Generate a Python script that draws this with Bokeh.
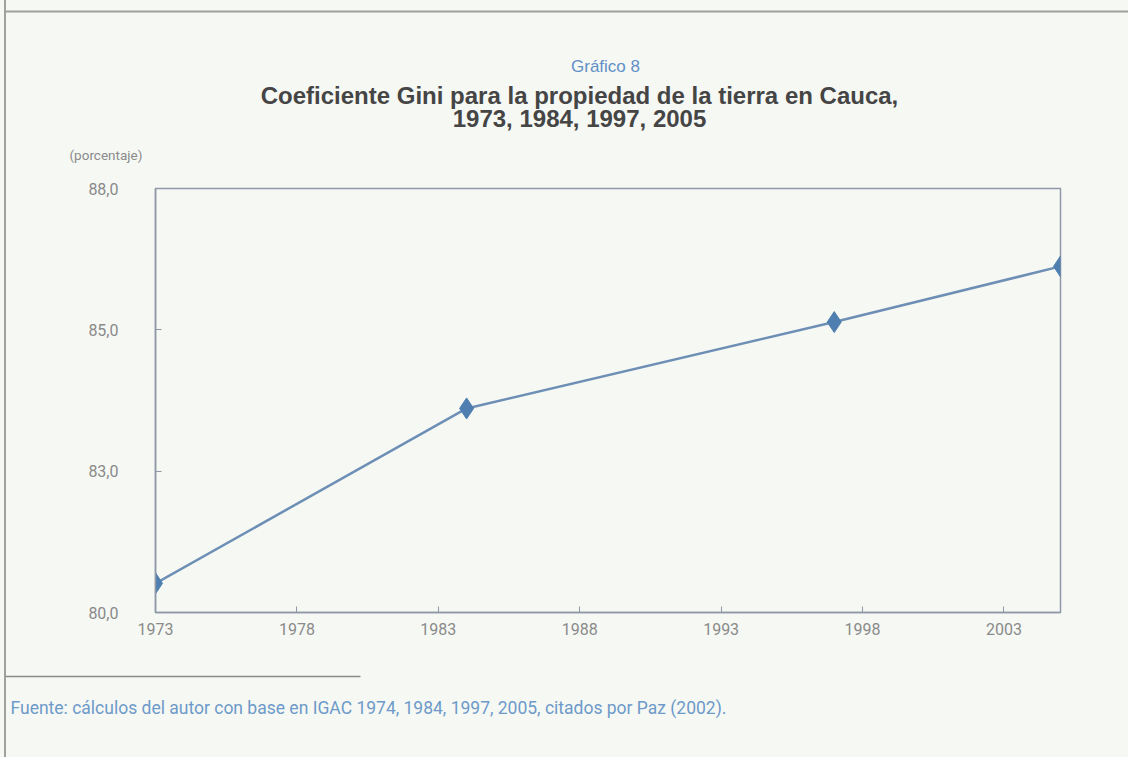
from bokeh.plotting import figure
from bokeh.models import FixedTicker, Range1d
from bokeh.core.properties import value
from bokeh.embed import file_html
from bokeh.resources import INLINE

years = [1973, 1984, 1997, 2005]
gini = [80.55, 83.85, 85.48, 86.53]
x_ticks = [1973, 1978, 1983, 1988, 1993, 1998, 2003]
y_ticks = [80.0, 80.0 + 8 / 3, 80.0 + 16 / 3, 88.0]
y_tick_labels = ["80,0", "83,0", "85,0", "88,0"]

BG = "#f6f8f4"
BORDER = "#a0a0a0"
W = 1128
HEAD_H, MAIN_H, FOOT_H = 178, 474, 105
SIDE = {"background": "linear-gradient(to right, %s 0px, %s 4px, %s 4px, %s 6px, %s 6px, %s 100%%)"
        % (BG, BG, BORDER, BORDER, BG, BG)}

def blank(h):
    f = figure(width=W, height=h, output_backend="svg", toolbar_location=None,
               x_range=Range1d(0, W), y_range=Range1d(h, 0),
               min_border=0, x_axis_location=None, y_axis_location=None,
               styles=SIDE)
    f.background_fill_alpha = 0
    f.border_fill_alpha = 0
    f.outline_line_color = None
    f.grid.visible = False
    return f

# header
head = blank(HEAD_H)
head.segment(x0=[4], y0=[11], x1=[W], y1=[11], line_color=BORDER, line_width=2)
head.text(x=[605], y=[66], text=["Gráfico 8"], text_font=value("Liberation Sans"),
          text_font_size="17px", text_color="#5f8fc6", text_align="center",
          text_baseline="middle")
head.text(x=[579, 579], y=[95, 118],
          text=["Coeficiente Gini para la propiedad de la tierra en Cauca,",
                "1973, 1984, 1997, 2005"],
          text_font=value("Liberation Sans"), text_font_style="bold",
          text_font_size="24px", text_color="#454545", text_align="center",
          text_baseline="middle")
head.text(x=[69], y=[154], text=["(porcentaje)"], text_font=value("Roboto"),
          text_font_size="13.5px", text_color="#8a8a8a", text_align="left",
          text_baseline="middle")

# main chart
p = figure(width=W, height=MAIN_H, output_backend="svg", toolbar_location=None,
           x_range=Range1d(1973, 2005), y_range=Range1d(80, 88),
           min_border_left=155, min_border_right=68, min_border_top=10,
           min_border_bottom=40, styles=SIDE)
p.background_fill_color = BG
p.border_fill_alpha = 0
p.outline_line_color = "#8f98a6"
p.outline_line_width = 1.5
p.grid.visible = False

for ax in (p.xaxis[0], p.yaxis[0]):
    ax.axis_line_color = "#8f98a6"
    ax.axis_line_width = 1.5
    ax.major_tick_line_color = "#8f98a6"
    ax.major_tick_in = 6
    ax.major_tick_out = 0
    ax.minor_tick_line_color = None
    ax.major_label_text_color = "#8a8a8a"
    ax.major_label_text_font = "Roboto"
    ax.major_label_text_font_size = "16px"

p.xaxis.ticker = FixedTicker(ticks=x_ticks)
p.xaxis.major_label_standoff = 10
p.yaxis.ticker = FixedTicker(ticks=y_ticks)
p.yaxis.major_label_overrides = {t: l for t, l in zip(y_ticks, y_tick_labels)}
p.yaxis.major_label_standoff = 37

p.line(years, gini, line_color="#6e8fb5", line_width=2.5)
p.scatter(years, gini, marker="diamond", size=21, fill_color="#4f7fb0",
          line_color="#4f7fb0")

# footer
foot = blank(FOOT_H)
foot.segment(x0=[5], y0=[24], x1=[360], y1=[24], line_color="#8a8a8a", line_width=1.5)
foot.text(x=[10], y=[55],
          text=["Fuente: cálculos del autor con base en IGAC 1974, 1984, 1997, 2005, citados por Paz (2002)."],
          text_font=value("Roboto"), text_font_size="17.5px", text_color="#6d9ac9",
          text_align="left", text_baseline="middle")

open("out.html", "w").write(file_html([head, p, foot], INLINE))
